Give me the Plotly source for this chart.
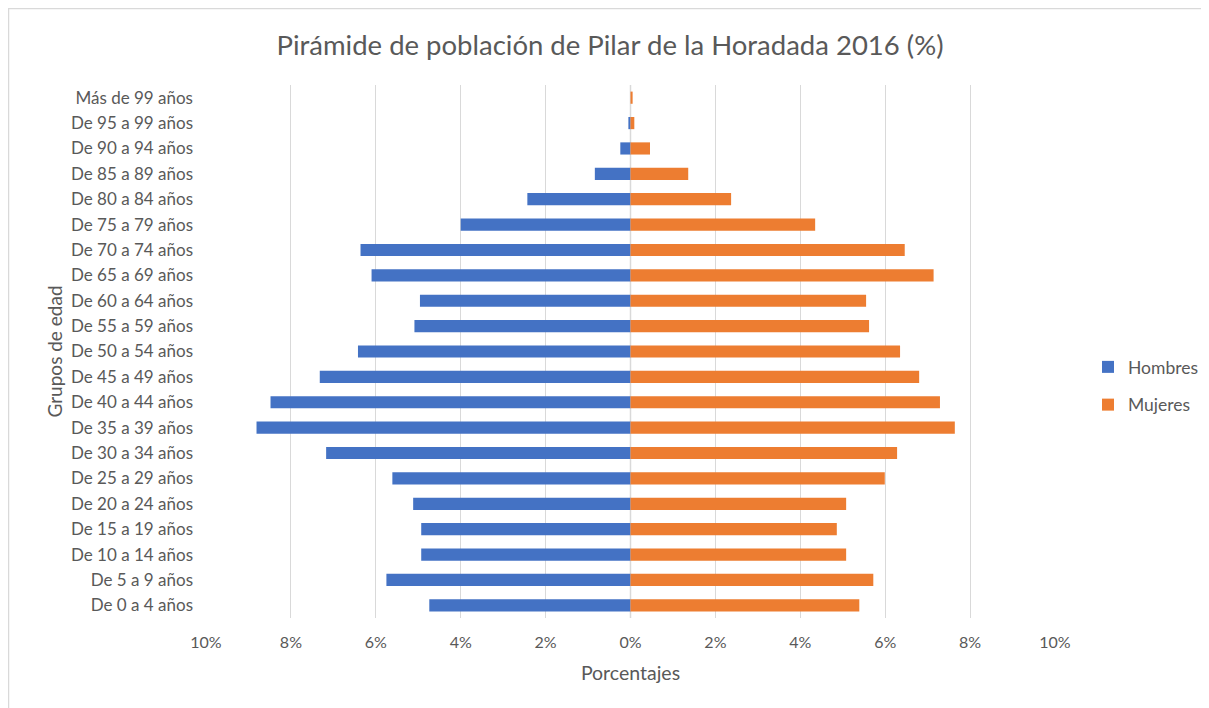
import plotly.graph_objects as go

categorias = ["De 0 a 4 años", "De 5 a 9 años", "De 10 a 14 años", "De 15 a 19 años",
              "De 20 a 24 años", "De 25 a 29 años", "De 30 a 34 años", "De 35 a 39 años",
              "De 40 a 44 años", "De 45 a 49 años", "De 50 a 54 años", "De 55 a 59 años",
              "De 60 a 64 años", "De 65 a 69 años", "De 70 a 74 años", "De 75 a 79 años",
              "De 80 a 84 años", "De 85 a 89 años", "De 90 a 94 años", "De 95 a 99 años",
              "Más de 99 años"]
hombres = [-4.74, -5.75, -4.93, -4.93, -5.12, -5.61, -7.17, -8.81, -8.48, -7.32, -6.42,
           -5.09, -4.96, -6.10, -6.36, -4.00, -2.43, -0.84, -0.24, -0.05, 0.0]
mujeres = [5.39, 5.72, 5.08, 4.86, 5.08, 5.99, 6.28, 7.64, 7.29, 6.80, 6.35,
           5.62, 5.55, 7.14, 6.46, 4.35, 2.37, 1.36, 0.46, 0.09, 0.05]
tick_vals = [-10, -8, -6, -4, -2, 0, 2, 4, 6, 8, 10]
tick_text = ["10%", "8%", "6%", "4%", "2%", "0%", "2%", "4%", "6%", "8%", "10%"]

FONT = "Lato"
GREY = "#595959"

fig = go.Figure()
fig.add_trace(go.Bar(y=categorias, x=hombres, orientation="h", name="Hombres",
                     marker=dict(color="#4472C4", line=dict(width=0)), legendgroup="h"))
fig.add_trace(go.Bar(y=categorias, x=mujeres, orientation="h", name="Mujeres",
                     marker=dict(color="#ED7D31", line=dict(width=0)), legendgroup="m"))

# figure sits at page offset (8, 8) because of the default body margin
W, H = 1201, 700
L, R, T, B = 198, 154, 77, 90
pw, ph = W - L - R, H - T - B

def px(x):
    return (x - L) / pw

def py(y):
    return (H - B - y) / ph

fig.update_layout(
    width=W, height=H,
    margin=dict(l=L, r=R, t=T, b=B, autoexpand=False),
    paper_bgcolor="white", plot_bgcolor="white",
    barmode="overlay", bargap=0.52,
    font=dict(family=FONT, color=GREY, size=16),
    title=dict(text="Pirámide de población de Pilar de la Horadada 2016 (%)",
               x=602 / W, xanchor="center", y=1 - 37 / H, yanchor="middle",
               font=dict(size=27.5, color=GREY, family=FONT)),
    xaxis=dict(range=[-10, 10], tickvals=tick_vals, ticktext=tick_text,
               showgrid=True, gridcolor="#d9d9d9", gridwidth=1, zeroline=False,
               showline=False, ticks="", ticklabelstandoff=13,
               title=dict(text="Porcentajes", standoff=16, font=dict(size=19.5, color=GREY)),
               tickfont=dict(size=16, color=GREY), fixedrange=True),
    yaxis=dict(showgrid=False, zeroline=False, showline=False, ticks="",
               ticklabelstandoff=12,
               title=dict(text="Grupos de edad", standoff=3, font=dict(size=19, color=GREY)),
               tickfont=dict(size=17, color=GREY), fixedrange=True),
    legend=dict(x=px(1080), y=py(378), xanchor="left", yanchor="middle",
                font=dict(size=17.5, color=GREY), tracegroupgap=12,
                itemwidth=30, bgcolor="rgba(0,0,0,0)"),
    showlegend=True,
    hovermode=False,
    shapes=[
        dict(type="line", xref="paper", yref="paper", x0=px(0.5), x1=px(0.5), y0=py(0), y1=py(H),
             line=dict(color="#d9d9d9", width=1.5)),
        dict(type="line", xref="paper", yref="paper", x0=px(0), x1=px(W), y0=py(0.5), y1=py(0.5),
             line=dict(color="#d9d9d9", width=1.5)),
        dict(type="line", xref="x", yref="paper", x0=0, x1=0, y0=0, y1=1,
             line=dict(color="#d9d9d9", width=1.5), layer="below"),
    ],
)

fig.write_html("out.html")
